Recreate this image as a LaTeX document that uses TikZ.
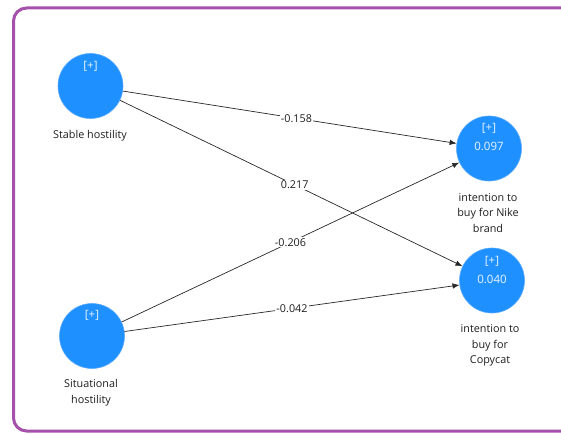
\documentclass[tikz,border=0pt]{standalone}
\usepackage{fontspec}
\setmainfont{Open Sans}
\usetikzlibrary{arrows.meta}
\definecolor{lvblue}{RGB}{30,144,255}
\definecolor{lvedge}{RGB}{90,170,255}
\definecolor{frame}{RGB}{165,80,170}
\definecolor{linec}{RGB}{40,40,40}
\definecolor{txt}{RGB}{30,30,30}
\tikzset{
  lv/.style={circle, fill=lvblue, draw=lvedge, line width=0.6pt, minimum size=65pt, inner sep=0pt},
  inner/.style={text=white!90!lvblue, font=\fontsize{11.5}{12}\selectfont},
  lbl/.style={text=txt, font=\fontsize{10.8}{15.5}\selectfont, align=center},
  path/.style={draw=linec, line width=0.7pt, -{Latex[length=7pt,width=5.5pt]}},
  coef/.style={fill=white, inner sep=1pt, text=txt, font=\fontsize{10.8}{12}\selectfont, pos=0.5}
}
\begin{document}
\begin{tikzpicture}[x=1pt,y=-1pt]
\useasboundingbox (0,0) rectangle (561,433);
\fill[white] (0,0) rectangle (561,433);
\begin{scope}
\clip (0,0) rectangle (561,433);
\draw[frame, line width=3pt, rounded corners=13pt] (13.5,8) rectangle (600,431);
\end{scope}

\node[lv] (sh) at (90.5,86) {};
\node[lv] (si) at (92,336) {};
\node[lv] (nk) at (489,148.5) {};
\node[lv] (cc) at (492,280.5) {};

\node[inner] (shp) at (90.5,66) {[+]};
\node[inner] (sip) at (92,315) {[+]};
\node[inner] (nkp) at (489,128) {[+]};
\node[inner] (nkv) at (489,146) {0.097};
\node[inner] (ccp) at (492,261) {[+]};
\node[inner] (ccv) at (492,279) {0.040};

\node[lbl] (shl) at (90,135.5) {Stable hostility};
\node[lbl] (sil) at (91,392.5) {Situational\\hostility};
\node[lbl] (nkl) at (488,213) {intention to\\buy for Nike\\brand};
\node[lbl] (ccl) at (490,345.5) {intention to\\buy for\\Copycat};

\draw[path] (sh) -- node[coef, pos=0.52] {-0.158} (nk);
\draw[path] (sh) -- node[coef, pos=0.51] {0.217} (cc);
\draw[path] (si) -- node[coef] {-0.206} (nk);
\draw[path] (si) -- node[coef] {-0.042} (cc);
\end{tikzpicture}
\end{document}
